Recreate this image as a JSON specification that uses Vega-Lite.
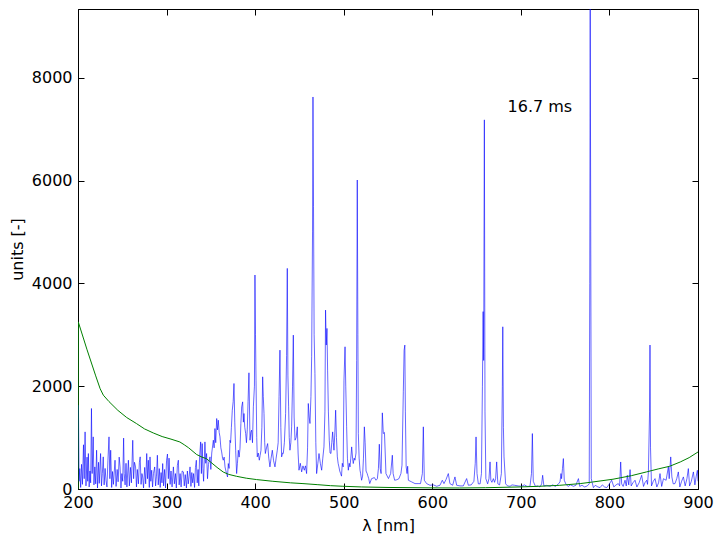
{
  "$schema": "https://vega.github.io/schema/vega-lite/v6.json",
  "autosize": "none",
  "width": 620,
  "height": 480,
  "padding": {"left": 78, "top": 9, "right": 26, "bottom": 57},
  "background": "white",
  "config": {
    "view": {"stroke": "black", "strokeWidth": 1},
    "font": "DejaVu Sans",
    "axis": {
      "grid": false,
      "domainColor": "black",
      "tickColor": "black",
      "labelColor": "black",
      "titleColor": "black",
      "labelFont": "DejaVu Sans",
      "titleFont": "DejaVu Sans",
      "labelFontSize": 16,
      "titleFontSize": 16,
      "titleFontWeight": "normal",
      "labelOverlap": false,
      "labelFlush": false,
      "tickSize": -6,
      "tickWidth": 1
    }
  },
  "datasets": {
    "spec": [
      {"wl":200.0,"v":420},{"wl":200.5,"v":1630},{"wl":201.2,"v":150},{"wl":202,"v":397},{"wl":203,"v":30},{"wl":204,"v":480},{"wl":205,"v":90},{"wl":206.2,"v":860},{"wl":207,"v":200},{"wl":208,"v":1111},{"wl":209,"v":60},{"wl":210.2,"v":620},{"wl":211,"v":150},{"wl":211.7,"v":690},{"wl":212.6,"v":40},{"wl":213.5,"v":350},{"wl":214.3,"v":120},{"wl":215.2,"v":1566},{"wl":216,"v":300},{"wl":217.2,"v":1014},{"wl":218,"v":80},{"wl":219,"v":430},{"wl":220,"v":100},{"wl":221,"v":754},{"wl":222,"v":20},{"wl":223.2,"v":520},{"wl":224,"v":110},{"wl":225.5,"v":690},{"wl":226.5,"v":60},{"wl":227.5,"v":300},{"wl":228.5,"v":625},{"wl":229.5,"v":80},{"wl":230.6,"v":400},{"wl":231.6,"v":170},{"wl":232.7,"v":40},{"wl":233.8,"v":560},{"wl":235,"v":1014},{"wl":236,"v":200},{"wl":236.9,"v":754},{"wl":238,"v":30},{"wl":239,"v":340},{"wl":240,"v":90},{"wl":241.8,"v":560},{"wl":243,"v":50},{"wl":244.2,"v":380},{"wl":245.3,"v":140},{"wl":246.5,"v":620},{"wl":247.5,"v":430},{"wl":248.5,"v":20},{"wl":249.5,"v":300},{"wl":250.5,"v":150},{"wl":251.5,"v":990},{"wl":252.2,"v":300},{"wl":253.2,"v":80},{"wl":254.2,"v":500},{"wl":255.2,"v":40},{"wl":256.9,"v":560},{"wl":258,"v":60},{"wl":259.2,"v":420},{"wl":260.3,"v":120},{"wl":261.8,"v":948},{"wl":262.8,"v":200},{"wl":263.8,"v":520},{"wl":265,"v":430},{"wl":266,"v":40},{"wl":267,"v":380},{"wl":268.2,"v":100},{"wl":269.3,"v":520},{"wl":270.2,"v":625},{"wl":271.2,"v":90},{"wl":272.2,"v":300},{"wl":273,"v":235},{"wl":274,"v":20},{"wl":275.3,"v":420},{"wl":276.4,"v":100},{"wl":277.6,"v":690},{"wl":278.5,"v":200},{"wl":279.4,"v":560},{"wl":280.5,"v":30},{"wl":281.3,"v":624},{"wl":282.2,"v":150},{"wl":283.2,"v":365},{"wl":284.2,"v":40},{"wl":285.2,"v":300},{"wl":286.6,"v":429},{"wl":287.6,"v":60},{"wl":288.6,"v":250},{"wl":289.6,"v":657},{"wl":290.6,"v":80},{"wl":291.8,"v":397},{"wl":292.8,"v":30},{"wl":293.8,"v":320},{"wl":294.8,"v":120},{"wl":295.6,"v":495},{"wl":296.6,"v":60},{"wl":297.8,"v":380},{"wl":298.8,"v":20},{"wl":300,"v":560},{"wl":301,"v":680},{"wl":302,"v":200},{"wl":302.8,"v":600},{"wl":304,"v":90},{"wl":305,"v":350},{"wl":306.2,"v":40},{"wl":307.7,"v":430},{"wl":308.8,"v":100},{"wl":310,"v":300},{"wl":311,"v":20},{"wl":312.2,"v":460},{"wl":313.3,"v":560},{"wl":314.2,"v":80},{"wl":315.3,"v":300},{"wl":316.4,"v":40},{"wl":317.6,"v":350},{"wl":319,"v":333},{"wl":320,"v":60},{"wl":321.1,"v":280},{"wl":322.4,"v":20},{"wl":323.5,"v":350},{"wl":324.5,"v":100},{"wl":325.5,"v":250},{"wl":326.5,"v":430},{"wl":327.5,"v":50},{"wl":328.5,"v":320},{"wl":329.5,"v":120},{"wl":330.5,"v":300},{"wl":331.6,"v":30},{"wl":332.6,"v":420},{"wl":333.6,"v":559},{"wl":334.6,"v":120},{"wl":335.6,"v":380},{"wl":336.4,"v":60},{"wl":337.3,"v":625},{"wl":338.5,"v":916},{"wl":339.3,"v":300},{"wl":340.2,"v":884},{"wl":341,"v":400},{"wl":341.8,"v":150},
      {"wl":343.3,"v":916},{"wl":344.2,"v":500},{"wl":345.2,"v":690},{"wl":346.2,"v":200},{"wl":347.3,"v":480},{"wl":349,"v":625},{"wl":350,"v":380},{"wl":351,"v":700},{"wl":352.8,"v":949},{"wl":353.7,"v":800},{"wl":354.6,"v":1176},{"wl":355.5,"v":900},{"wl":356.6,"v":1371},{"wl":357.5,"v":1150},{"wl":358.4,"v":1338},{"wl":359.4,"v":1100},{"wl":360.3,"v":1014},{"wl":361.3,"v":800},{"wl":362.2,"v":721},{"wl":363.2,"v":600},{"wl":364,"v":560},{"wl":365,"v":620},{"wl":366,"v":429},{"wl":367,"v":350},{"wl":367.8,"v":300},{"wl":368.8,"v":234},{"wl":369.7,"v":495},{"wl":370.6,"v":400},{"wl":371.6,"v":948},{"wl":372.3,"v":900},{"wl":373.2,"v":1200},{"wl":374.2,"v":1533},{"wl":375.2,"v":1700},{"wl":376.1,"v":2052},{"wl":377,"v":1300},{"wl":378,"v":754},{"wl":379.1,"v":300},{"wl":380,"v":500},{"wl":381,"v":754},{"wl":381.9,"v":620},{"wl":382.9,"v":787},{"wl":383.9,"v":1273},{"wl":384.8,"v":1597},{"wl":385.9,"v":1695},{"wl":386.7,"v":1300},{"wl":387.4,"v":1468},{"wl":388.3,"v":1200},{"wl":389.3,"v":1079},{"wl":390.2,"v":900},{"wl":391.1,"v":1150},{"wl":392,"v":1700},{"wl":393,"v":2260},{"wl":394.2,"v":949},{"wl":395.1,"v":1100},{"wl":396,"v":1144},{"wl":397,"v":900},{"wl":398,"v":1598},{"wl":399.2,"v":2000},{"wl":399.8,"v":4162},{"wl":400.4,"v":3000},{"wl":401,"v":2117},{"wl":401.8,"v":1000},{"wl":402.4,"v":625},{"wl":403.5,"v":700},{"wl":404.7,"v":560},{"wl":405.6,"v":650},{"wl":406.6,"v":754},{"wl":407.6,"v":1200},{"wl":408.5,"v":2182},{"wl":409.2,"v":1800},{"wl":410,"v":1468},{"wl":410.8,"v":900},{"wl":411.5,"v":690},{"wl":412.8,"v":800},{"wl":414.1,"v":884},{"wl":415.4,"v":600},{"wl":416.7,"v":430},{"wl":418,"v":600},{"wl":419.4,"v":754},{"wl":420.8,"v":550},{"wl":422.4,"v":430},{"wl":423.7,"v":600},{"wl":425,"v":754},{"wl":426,"v":900},{"wl":427,"v":1800},{"wl":428,"v":2701},{"wl":429,"v":1200},{"wl":429.9,"v":625},{"wl":431,"v":700},{"wl":431.8,"v":690},{"wl":433,"v":900},{"wl":434.4,"v":1468},{"wl":435.5,"v":2600},{"wl":436.3,"v":4291},{"wl":437,"v":2200},{"wl":437.8,"v":1598},{"wl":438.5,"v":1000},{"wl":439.3,"v":754},{"wl":440.3,"v":900},{"wl":441.2,"v":1209},{"wl":442.2,"v":2000},{"wl":443.1,"v":2993},{"wl":444,"v":1400},{"wl":445,"v":949},{"wl":446.3,"v":1000},{"wl":447.6,"v":1209},{"wl":448.5,"v":700},{"wl":449.5,"v":365},{"wl":451,"v":500},{"wl":452.5,"v":333},{"wl":454,"v":450},{"wl":455.5,"v":365},{"wl":456.8,"v":450},{"wl":458.1,"v":300},{"wl":459.2,"v":800},{"wl":460,"v":1663},{"wl":461,"v":1400},{"wl":461.9,"v":1274},{"wl":463,"v":1800},{"wl":463.8,"v":2572},{"wl":464.8,"v":5000},{"wl":465.3,"v":7625},{"wl":465.9,"v":5500},{"wl":466.6,"v":3000},{"wl":467.5,"v":2247},{"wl":468.5,"v":900},{"wl":469.4,"v":300},{"wl":470.8,"v":500},{"wl":472.1,"v":690},{"wl":473.6,"v":500},{"wl":475.1,"v":365},{"wl":476.4,"v":600},{"wl":477.7,"v":819},{"wl":478.8,"v":1500},{"wl":479.5,"v":3480},{"wl":480.3,"v":2800},{"wl":481.1,"v":3123},{"wl":481.8,"v":2312},{"wl":482.7,"v":1500},{"wl":483.7,"v":949},{"wl":484.6,"v":700},{"wl":485.6,"v":690},{"wl":486.5,"v":900},{"wl":487.5,"v":1111},{"wl":488.3,"v":900},{"wl":489,"v":754},{"wl":490,"v":1100},{"wl":490.9,"v":1533},{"wl":491.8,"v":1000},{"wl":492.8,"v":625},{"wl":493.7,"v":500},{"wl":494.6,"v":430},{"wl":495.5,"v":350},{"wl":496.5,"v":300},{"wl":497.5,"v":250},{"wl":498.4,"v":500},{"wl":499.4,"v":430},{"wl":500.3,"v":2117},{"wl":501.5,"v":2766},{"wl":502.3,"v":2000},{"wl":503.3,"v":1209},{"wl":504.2,"v":600},{"wl":505.2,"v":365},{"wl":506.2,"v":500},{"wl":507.1,"v":430},{"wl":508,"v":600},{"wl":509,"v":819},{"wl":510,"v":600},{"wl":510.8,"v":495},{"wl":511.8,"v":600},{"wl":512.7,"v":560},{"wl":513.9,"v":700},{"wl":514.6,"v":2500},{"wl":515.3,"v":6010},{"wl":516,"v":3000},{"wl":516.5,"v":1079},{"wl":517.4,"v":600},{"wl":518.4,"v":365},{"wl":519.1,"v":300},{"wl":520.2,"v":170},{"wl":521.3,"v":250},{"wl":522.3,"v":600},{"wl":523.3,"v":1209},{"wl":524.2,"v":900},{"wl":525.2,"v":350},{"wl":526.5,"v":300},{"wl":527,"v":268},{"wl":528.2,"v":203},{"wl":529.4,"v":105},{"wl":531.4,"v":200},{"wl":534.6,"v":222},{"wl":536.5,"v":170},{"wl":538,"v":200},{"wl":539.2,"v":400},{"wl":540.2,"v":871},{"wl":541.2,"v":400},{"wl":542.2,"v":300},{"wl":543.6,"v":1481},{"wl":544.7,"v":1079},{"wl":546,"v":1100},{"wl":547.7,"v":300},{"wl":550.5,"v":203},{"wl":553,"v":300},{"wl":554.9,"v":657},{"wl":555.8,"v":300},{"wl":557.5,"v":170},{"wl":560,"v":180},{"wl":562.3,"v":200},{"wl":564.6,"v":300},{"wl":565.8,"v":462},{"wl":567.3,"v":1890},{"wl":568.2,"v":2700},{"wl":569,"v":2799},{"wl":569.6,"v":1500},{"wl":570.5,"v":430},{"wl":571.5,"v":300},{"wl":572.2,"v":443},{"wl":573,"v":170},{"wl":576.7,"v":138},{"wl":580.5,"v":105},{"wl":584,"v":105},{"wl":586.7,"v":105},{"wl":588.8,"v":300},{"wl":589.9,"v":1209},{"wl":591,"v":170},{"wl":593.6,"v":105},{"wl":597.4,"v":73},{"wl":601.2,"v":80},{"wl":605,"v":53},{"wl":608.7,"v":73},{"wl":611.3,"v":170},{"wl":613.2,"v":105},{"wl":615.5,"v":183},{"wl":618.1,"v":300},{"wl":619.9,"v":105},{"wl":623,"v":73},{"wl":625.6,"v":235},{"wl":627.5,"v":73},{"wl":631.3,"v":60},{"wl":635,"v":60},{"wl":638.8,"v":203},{"wl":640.7,"v":73},{"wl":644,"v":80},{"wl":647,"v":150},{"wl":648.5,"v":500},{"wl":649.4,"v":1013},{"wl":650.5,"v":300},{"wl":652,"v":100},{"wl":654,"v":100},{"wl":655.5,"v":300},{"wl":656.6,"v":2000},{"wl":657.4,"v":3450},{"wl":658,"v":2500},{"wl":658.8,"v":7180},{"wl":659.5,"v":1500},{"wl":660.5,"v":200},{"wl":662.5,"v":100},{"wl":664,"v":200},{"wl":665.2,"v":527},{"wl":666.1,"v":170},{"wl":667.3,"v":130},{"wl":669,"v":202},{"wl":670.3,"v":130},{"wl":671.5,"v":200},{"wl":672.7,"v":527},{"wl":674,"v":100},{"wl":676,"v":80},{"wl":678,"v":300},{"wl":679.1,"v":2000},{"wl":679.6,"v":3155},{"wl":680.3,"v":1200},{"wl":681,"v":624},{"wl":682.8,"v":100},{"wl":685,"v":60},{"wl":687.8,"v":53},{"wl":690,"v":80},{"wl":693,"v":72},{"wl":697,"v":60},{"wl":700.9,"v":53},{"wl":704,"v":80},{"wl":707,"v":50},{"wl":710.3,"v":53},{"wl":712,"v":300},{"wl":713,"v":1078},{"wl":714,"v":150},{"wl":716.5,"v":50},{"wl":719,"v":60},{"wl":721.6,"v":40},{"wl":723.5,"v":100},{"wl":724.6,"v":267},{"wl":726,"v":60},{"wl":729,"v":70},{"wl":733,"v":53},{"wl":736,"v":80},{"wl":739,"v":50},{"wl":742,"v":90},{"wl":744.2,"v":137},{"wl":745.3,"v":300},{"wl":746,"v":200},{"wl":747,"v":400},{"wl":748,"v":592},{"wl":749,"v":170},{"wl":751,"v":90},{"wl":753.5,"v":50},{"wl":756,"v":80},{"wl":759.3,"v":53},{"wl":762,"v":70},{"wl":765,"v":202},{"wl":766.5,"v":50},{"wl":769,"v":72},{"wl":772,"v":40},{"wl":775,"v":60},{"wl":777.2,"v":100},{"wl":777.8,"v":4000},{"wl":778.3,"v":9336},{"wl":778.9,"v":5000},{"wl":779.5,"v":200},{"wl":781.9,"v":27},{"wl":784,"v":72},{"wl":787,"v":40},{"wl":789.4,"v":27},{"wl":792,"v":80},{"wl":794.5,"v":40},{"wl":797,"v":27},{"wl":800,"v":100},{"wl":802.5,"v":170},{"wl":805,"v":40},{"wl":807.5,"v":80},{"wl":810,"v":105},{"wl":811.5,"v":60},{"wl":812.7,"v":526},{"wl":813.8,"v":100},{"wl":815.5,"v":50},{"wl":817.6,"v":170},{"wl":819,"v":60},{"wl":820.2,"v":267},{"wl":821.8,"v":80},{"wl":823.3,"v":377},{"wl":824.6,"v":60},{"wl":826.5,"v":120},{"wl":828.9,"v":170},{"wl":831,"v":40},{"wl":833.5,"v":120},{"wl":836.4,"v":267},{"wl":838.5,"v":50},{"wl":840,"v":120},{"wl":842.1,"v":170},{"wl":843,"v":90},{"wl":844,"v":332},{"wl":845.3,"v":1500},{"wl":845.8,"v":2800},{"wl":846.4,"v":800},{"wl":847.5,"v":60},{"wl":849.5,"v":150},{"wl":851.5,"v":202},{"wl":853.5,"v":40},{"wl":855.5,"v":120},{"wl":857.1,"v":300},{"wl":859,"v":50},{"wl":861,"v":200},{"wl":864,"v":170},{"wl":866.5,"v":429},{"wl":867.5,"v":200},{"wl":869.2,"v":624},{"wl":870.5,"v":235},{"wl":872,"v":100},{"wl":874,"v":105},{"wl":876,"v":200},{"wl":877.8,"v":332},{"wl":879.5,"v":40},{"wl":881.5,"v":150},{"wl":883.5,"v":235},{"wl":885.5,"v":60},{"wl":887.5,"v":200},{"wl":889.1,"v":397},{"wl":890.5,"v":60},{"wl":892.5,"v":150},{"wl":894.8,"v":332},{"wl":896.5,"v":80},{"wl":898,"v":250},{"wl":899.3,"v":364},{"wl":900,"v":150}
    ],
    "bg": [
      {"wl":200,"v":0},{"wl":200.3,"v":3250},{"wl":210,"v":2720},{"wl":220,"v":2200},{"wl":225,"v":1950},{"wl":228.6,"v":1825},{"wl":235,"v":1700},{"wl":245,"v":1530},{"wl":255,"v":1390},{"wl":266,"v":1273},{"wl":275,"v":1170},{"wl":285,"v":1090},{"wl":295,"v":1020},{"wl":305,"v":970},{"wl":315,"v":915},{"wl":320,"v":860},{"wl":325,"v":800},{"wl":334,"v":670},{"wl":340,"v":620},{"wl":345,"v":590},{"wl":350,"v":520},{"wl":357,"v":420},{"wl":364,"v":330},{"wl":370,"v":285},{"wl":379,"v":247},{"wl":390,"v":210},{"wl":401.7,"v":183},{"wl":420,"v":150},{"wl":440,"v":120},{"wl":454,"v":105},{"wl":470,"v":85},{"wl":485,"v":65},{"wl":499,"v":53},{"wl":520,"v":40},{"wl":550,"v":30},{"wl":600,"v":22},{"wl":631,"v":20},{"wl":660,"v":25},{"wl":699,"v":40},{"wl":720,"v":52},{"wl":744,"v":72},{"wl":767,"v":105},{"wl":781,"v":136},{"wl":804,"v":190},{"wl":825,"v":260},{"wl":842,"v":333},{"wl":855,"v":390},{"wl":868,"v":442},{"wl":880,"v":526},{"wl":890,"v":610},{"wl":900,"v":720}
    ],
    "note": [{"wl":685,"v":7330,"t":"16.7 ms"}]
  },
  "layer": [
    {
      "data": {"name": "spec"},
      "mark": {"type": "line", "color": "#0000ff", "strokeWidth": 0.6, "clip": true},
      "encoding": {
        "x": {"field": "wl", "type": "quantitative", "scale": {"domain": [200, 900], "nice": false, "zero": false},
              "axis": {"orient": "bottom", "values": [200,300,400,500,600,700,800,900], "format": "d", "title": "λ [nm]", "labelPadding": 11, "titleX": 310, "titleY": 36, "titleAlign": "center", "titleBaseline": "middle"}},
        "y": {"field": "v", "type": "quantitative", "scale": {"domain": [0, 9336], "nice": false},
              "axis": {"orient": "left", "values": [0,2000,4000,6000,8000], "format": "d", "title": "units [-]", "labelPadding": 12, "titleAngle": 270, "titleX": -61, "titleY": 240, "titleAlign": "center", "titleBaseline": "middle"}}
      }
    },
    {
      "data": {"name": "bg"},
      "mark": {"type": "line", "color": "#008000", "strokeWidth": 1, "clip": true},
      "encoding": {
        "x": {"field": "wl", "type": "quantitative", "axis": {"orient": "top", "values": [200,300,400,500,600,700,800,900], "labels": false, "domain": false, "title": null}},
        "y": {"field": "v", "type": "quantitative", "axis": {"orient": "right", "values": [0,2000,4000,6000,8000], "labels": false, "domain": false, "title": null}}
      }
    },
    {
      "data": {"name": "note"},
      "mark": {"type": "text", "align": "left", "baseline": "alphabetic", "fontSize": 16, "font": "DejaVu Sans", "color": "black"},
      "encoding": {
        "x": {"field": "wl", "type": "quantitative", "axis": null},
        "y": {"field": "v", "type": "quantitative", "axis": null},
        "text": {"field": "t"}
      }
    }
  ],
  "resolve": {"axis": {"x": "independent", "y": "independent"}}
}
